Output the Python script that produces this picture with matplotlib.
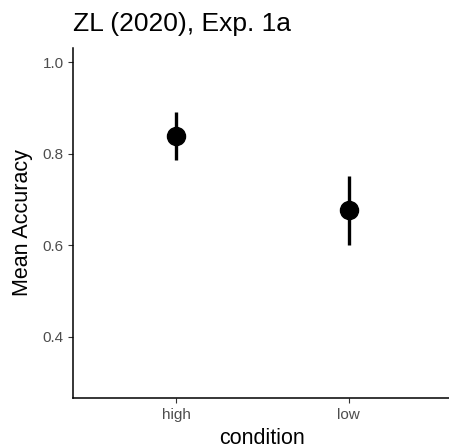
import matplotlib
matplotlib.use("Agg")
from matplotlib import pyplot as plt

plt.rcParams["font.family"] = ["Liberation Sans", "DejaVu Sans"]

# data
conditions = ["high", "low"]
mean_acc = [0.839, 0.677]
ci_low = [0.786, 0.601]
ci_high = [0.892, 0.752]

fig = plt.figure(figsize=(4.49, 4.48), dpi=100)
ax = fig.add_axes([72.7 / 449, 1 - 397.7 / 448, (452 - 72.7) / 449, (397.7 - 48.3) / 448])

xs = list(range(1, len(conditions) + 1))
yerr = [[m - l for m, l in zip(mean_acc, ci_low)], [h - m for m, h in zip(mean_acc, ci_high)]]
ax.errorbar(xs, mean_acc, yerr=yerr, fmt="o", color="black", ms=13, elinewidth=2.4, capsize=0, clip_on=False)

ax.set_xlim(0.4, 2.6)
ax.set_ylim(0.267, 1.031)
ax.set_xticks(xs)
ax.set_xticklabels(conditions)
ax.set_yticks([0.4, 0.6, 0.8, 1.0])
ax.set_yticklabels(["0.4", "0.6", "0.8", "1.0"])

for side in ["top", "right"]:
    ax.spines[side].set_visible(False)
for side in ["left", "bottom"]:
    ax.spines[side].set_linewidth(1.1)
    ax.spines[side].set_color("black")

ax.tick_params(axis="x", pad=4)
ax.tick_params(axis="y", pad=3)
ax.tick_params(axis="both", length=3.5, width=0.8, color="#333333", labelcolor="#4D4D4D", labelsize=11)

ax.set_xlabel("condition", fontsize=15.5, color="black", labelpad=4)
ax.set_ylabel("Mean Accuracy", fontsize=15.5, color="black", labelpad=7)

fig.text(73 / 449, 1 - 31 / 448, "ZL (2020), Exp. 1a", fontsize=19, color="black", ha="left", va="baseline")

fig.savefig("out.png", dpi=100)
